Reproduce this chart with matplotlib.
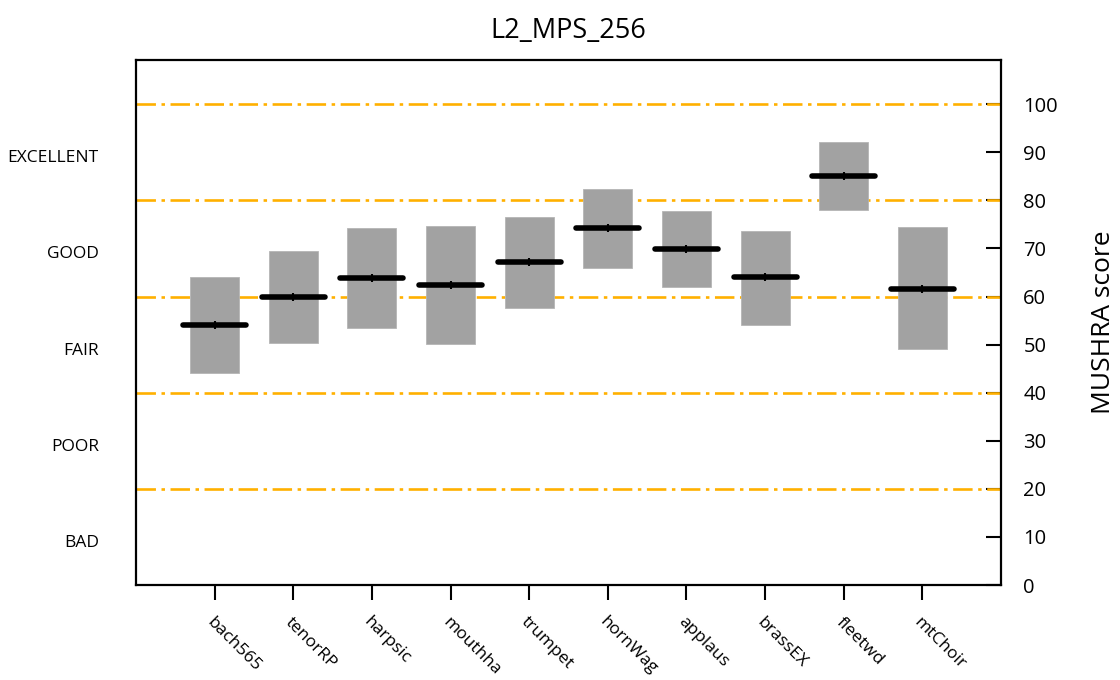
import matplotlib
matplotlib.use("Agg")
import matplotlib.pyplot as plt
from matplotlib.transforms import blended_transform_factory, offset_copy

plt.rcParams['font.family'] = ['Open Sans', 'DejaVu Sans']
plt.rcParams['lines.scale_dashes'] = False

items = ["bach565", "tenorRP", "harpsic", "mouthha", "trumpet",
         "hornWag", "applaus", "brassEX", "fleetwd", "mtChoir"]
median = [54.1, 59.9, 63.9, 62.5, 67.1, 74.2, 69.9, 64.0, 85.1, 61.6]
ci_low = [44.0, 50.4, 53.5, 50.2, 57.7, 66.0, 62.0, 54.1, 77.9, 49.1]
ci_high = [64.1, 69.4, 74.3, 74.7, 76.6, 82.4, 77.8, 73.7, 92.2, 74.4]

grade_levels = [20, 40, 60, 80, 100]
grade_names = ["BAD", "POOR", "FAIR", "GOOD", "EXCELLENT"]
grade_pos = [10, 30, 50, 70, 90]
score_ticks = [0, 10, 20, 30, 40, 50, 60, 70, 80, 90, 100]

fig = plt.figure(figsize=(11.2, 6.8), dpi=100)
ax = fig.add_axes([0.1214, 0.1397, 0.7724, 0.7721])

x = list(range(1, len(items) + 1))

for lvl in grade_levels:
    ax.axhline(lvl, color="#FFB000", lw=1.9, dashes=(14, 4, 2.5, 4), zorder=1)

heights = [h - l for h, l in zip(ci_high, ci_low)]
ax.bar(x, heights, bottom=ci_low, width=0.625, color="#a2a2a2",
       edgecolor="#b5b5b5", linewidth=0.6, zorder=2)

for xi, m in zip(x, median):
    ax.plot([xi - 0.4, xi + 0.4], [m, m], color="black", lw=4.0,
            solid_capstyle="round", zorder=3)
ax.plot(x, median, ls="none", marker="|", ms=6, mew=1.5, color="black", zorder=4)

ax.set_xlim(0, 11)
ax.set_ylim(0, 109.2)

ax.yaxis.tick_right()
ax.yaxis.set_label_position("right")
ax.set_yticks(score_ticks)
ax.set_yticklabels([str(t) for t in score_ticks], fontsize=14.5)
ax.tick_params(axis="y", direction="in", length=11, width=1.5, pad=16)
ax.set_ylabel("MUSHRA score", fontsize=19, labelpad=24)

ax.set_xticks(x)
ax.set_xticklabels(items, fontsize=12.5, rotation=-45, ha="left",
                   rotation_mode="anchor")
ax.tick_params(axis="x", direction="out", length=11, width=1.5, pad=10)

for s in ax.spines.values():
    s.set_linewidth(1.6)
ax.set_axisbelow(True)

trans = offset_copy(blended_transform_factory(ax.transAxes, ax.transData),
                    fig=fig, y=-6, units="dots")
for name, pos in zip(grade_names, grade_pos):
    ax.text(-0.043, pos, name, transform=trans, ha="right", va="center",
            fontsize=12.5)

ax.set_title("L2_MPS_256", fontsize=19.5, pad=16)

fig.savefig("out.png", dpi=100)
